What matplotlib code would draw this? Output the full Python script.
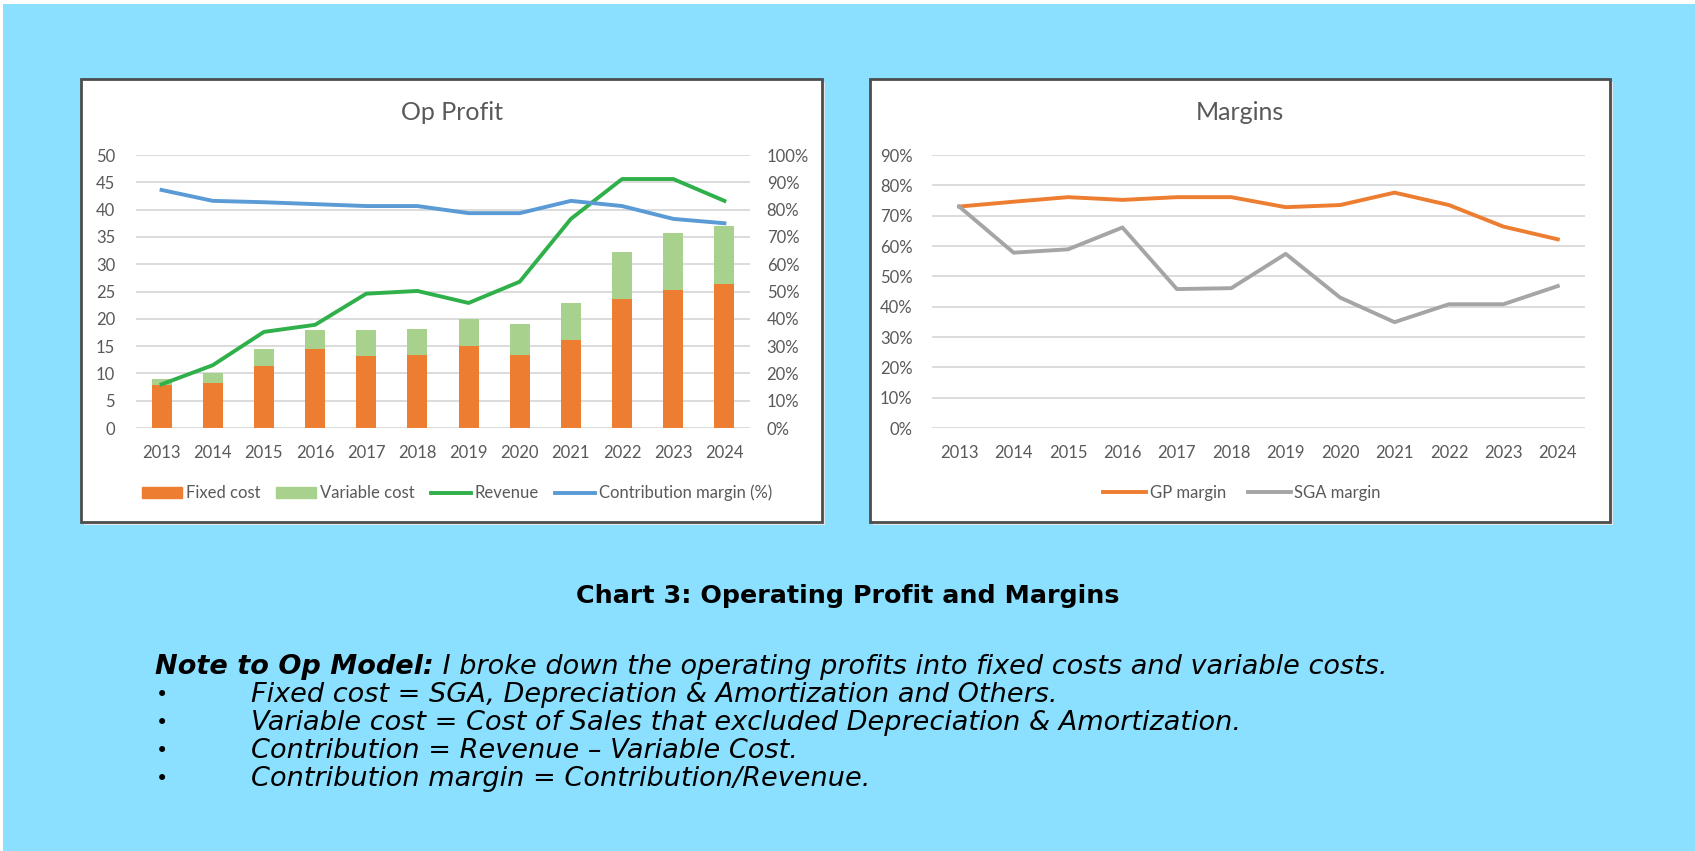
"""
Chart 3: Operating Profit and Margins (two Excel-style panels on a blue page)
"""
import matplotlib
matplotlib.use('Agg')
import matplotlib.pyplot as plt
from matplotlib.patches import Rectangle, Patch
from matplotlib.lines import Line2D
from matplotlib.ticker import PercentFormatter

W, H = 1695, 851

# Data
years = [str(y) for y in range(2013, 2025)]
fixed_cost = [7.8, 8.2, 11.4, 14.5, 13.1, 13.4, 15.1, 13.4, 16.2, 23.7, 25.2, 26.4]
variable_cost = [1.2, 1.8, 3.0, 3.5, 4.9, 4.8, 4.8, 5.6, 6.7, 8.6, 10.6, 10.6]
revenue = [8.0, 11.5, 17.6, 18.9, 24.6, 25.1, 22.9, 26.8, 38.3, 45.6, 45.6, 41.6]
contribution_margin = [87.2, 83.2, 82.7, 82.0, 81.3, 81.3, 78.7, 78.7, 83.2, 81.3, 76.6, 75.0]
gp_margin = [73.0, 74.6, 76.1, 75.2, 76.1, 76.1, 72.8, 73.5, 77.6, 73.5, 66.4, 62.2]
sga_margin = [73.0, 57.8, 58.9, 66.1, 45.8, 46.1, 57.4, 43.0, 34.9, 40.8, 40.8, 46.8]

note_head = 'Note to Op Model:'
note_first = ' I broke down the operating profits into fixed costs and variable costs.'
note_bullets = [
    'Fixed cost = SGA, Depreciation & Amortization and Others.',
    'Variable cost = Cost of Sales that excluded Depreciation & Amortization.',
    'Contribution = Revenue \u2013 Variable Cost.',
    'Contribution margin = Contribution/Revenue.',
]

BG = '#8BDFFF'
TXT = '#595959'
GRID = '#D9D9D9'
ORANGE = '#ED7D31'
LGREEN = '#A9D18E'
GREEN = '#2FB04A'
BLUE = '#5B9BD5'
GRAY = '#A5A5A5'
CHART_FONT = ['Lato', 'DejaVu Sans']
NOTE_FONT = ['DejaVu Sans']


def box(x0, y0, x1, y1):
    # pixel box (top-left origin) -> figure fraction rect
    return [x0 / W, 1 - y1 / H, (x1 - x0) / W, (y1 - y0) / H]


def style_axis(a):
    for s in a.spines.values():
        s.set_visible(False)
    a.tick_params(length=0, labelsize=12, labelcolor=TXT)
    for lab in a.get_xticklabels() + a.get_yticklabels():
        lab.set_family(CHART_FONT)


fig = plt.figure(figsize=(W / 100, H / 100), dpi=100)
fig.patch.set_facecolor(BG)

# white strips along the left and top edge of the screenshot
fig.patches.append(Rectangle((0, 0), 3 / W, 1, transform=fig.transFigure,
                             facecolor='white', edgecolor='none', zorder=-5))
fig.patches.append(Rectangle((0, 1 - 4 / H), 1, 4 / H, transform=fig.transFigure,
                             facecolor='white', edgecolor='none', zorder=-5))

# chart panels
for x0, x1 in [(81, 822), (870, 1610)]:
    r = box(x0, 79, x1, 522)
    fig.patches.append(Rectangle((r[0] + 3 / W, r[1] - 3 / H), r[2], r[3],
                                 transform=fig.transFigure, facecolor='#E6E6E6',
                                 edgecolor='none', zorder=-3))
    fig.patches.append(Rectangle((r[0], r[1]), r[2], r[3], transform=fig.transFigure,
                                 facecolor='white', edgecolor='#4D4D4D', lw=2.0, zorder=-2))

x = list(range(len(years)))

# ---- Op Profit ----
ax = fig.add_axes(box(136, 155, 750, 428))
ax.set_facecolor('none')
ax.bar(x, fixed_cost, width=0.39, color=ORANGE, zorder=2)
ax.bar(x, variable_cost, width=0.39, bottom=fixed_cost, color=LGREEN, zorder=2)
ax.plot(x, revenue, color=GREEN, lw=2.8, zorder=3, solid_joinstyle='round')
ax.set_xlim(-0.5, len(years) - 0.5)
ax.set_ylim(0, 50)
ax.set_yticks(range(0, 51, 5))
ax.set_xticks(x)
ax.set_xticklabels(years)
ax.grid(axis='y', color=GRID, lw=1.3, zorder=0)
ax.set_axisbelow(True)
ax.tick_params(axis='y', pad=15)
ax.tick_params(axis='x', pad=12)

ax2 = ax.twinx()
ax2.plot(x, contribution_margin, color=BLUE, lw=2.8, solid_joinstyle='round')
ax2.set_ylim(0, 100)
ax2.set_yticks(range(0, 101, 10))
ax2.yaxis.set_major_formatter(PercentFormatter(decimals=0))
ax2.tick_params(axis='y', pad=12)
style_axis(ax)
style_axis(ax2)

fig.text(452 / W, 1 - 112 / H, 'Op Profit', ha='center', va='center',
         fontsize=18, color=TXT, family=CHART_FONT)

handles = [Patch(color=ORANGE), Patch(color=LGREEN),
           Line2D([], [], color=GREEN, lw=2.8), Line2D([], [], color=BLUE, lw=2.8)]
fig.legend(handles, ['Fixed cost', 'Variable cost', 'Revenue', 'Contribution margin (%)'],
           loc='center', bbox_to_anchor=(457 / W, 1 - 493 / H), ncol=4, frameon=False,
           prop={'family': CHART_FONT, 'size': 12}, labelcolor=TXT,
           handlelength=2.4, handleheight=0.6, handletextpad=0.25, columnspacing=0.95)

# ---- Margins ----
bx = fig.add_axes(box(932, 155, 1585, 428))
bx.set_facecolor('none')
bx.plot(x, gp_margin, color=ORANGE, lw=2.8, solid_joinstyle='round', zorder=3)
bx.plot(x, sga_margin, color=GRAY, lw=2.8, solid_joinstyle='round', zorder=3)
bx.set_xlim(-0.5, len(years) - 0.5)
bx.set_ylim(0, 90)
bx.set_yticks(range(0, 91, 10))
bx.yaxis.set_major_formatter(PercentFormatter(decimals=0))
bx.set_xticks(x)
bx.set_xticklabels(years)
bx.grid(axis='y', color=GRID, lw=1.3, zorder=0)
bx.set_axisbelow(True)
bx.tick_params(axis='y', pad=14)
bx.tick_params(axis='x', pad=12)
style_axis(bx)

fig.text(1240 / W, 1 - 112 / H, 'Margins', ha='center', va='center',
         fontsize=18, color=TXT, family=CHART_FONT)

handles = [Line2D([], [], color=ORANGE, lw=2.8), Line2D([], [], color=GRAY, lw=2.8)]
fig.legend(handles, ['GP margin', 'SGA margin'],
           loc='center', bbox_to_anchor=(1242 / W, 1 - 493 / H), ncol=2, frameon=False,
           prop={'family': CHART_FONT, 'size': 12}, labelcolor=TXT,
           handlelength=2.6, handletextpad=0.2, columnspacing=1.3)

# ---- caption and notes ----
fig.text(848 / W, 1 - 603 / H, 'Chart 3: Operating Profit and Margins', ha='center',
         va='baseline', fontsize=18.3, fontweight='bold', family=NOTE_FONT, color='black')

renderer = fig.canvas.get_renderer()
head = fig.text(155 / W, 1 - 674 / H, note_head, ha='left', va='baseline', fontsize=19.5,
                fontweight='bold', style='italic', family=NOTE_FONT, color='black')
bb = head.get_window_extent(renderer)
fig.text(bb.x1 / W, 1 - 674 / H, note_first, ha='left', va='baseline', fontsize=19.5,
         style='italic', family=NOTE_FONT, color='black')

for i, line in enumerate(note_bullets):
    yb = 1 - (702 + 28 * i) / H
    fig.text(156 / W, yb + 1 / H, '\u2022', ha='left', va='baseline', fontsize=15,
             family=NOTE_FONT, color='black')
    fig.text(251 / W, yb, line, ha='left', va='baseline', fontsize=19.5,
             style='italic', family=NOTE_FONT, color='black')

fig.savefig('out.png', dpi=100, facecolor=fig.get_facecolor())
plt.close(fig)
